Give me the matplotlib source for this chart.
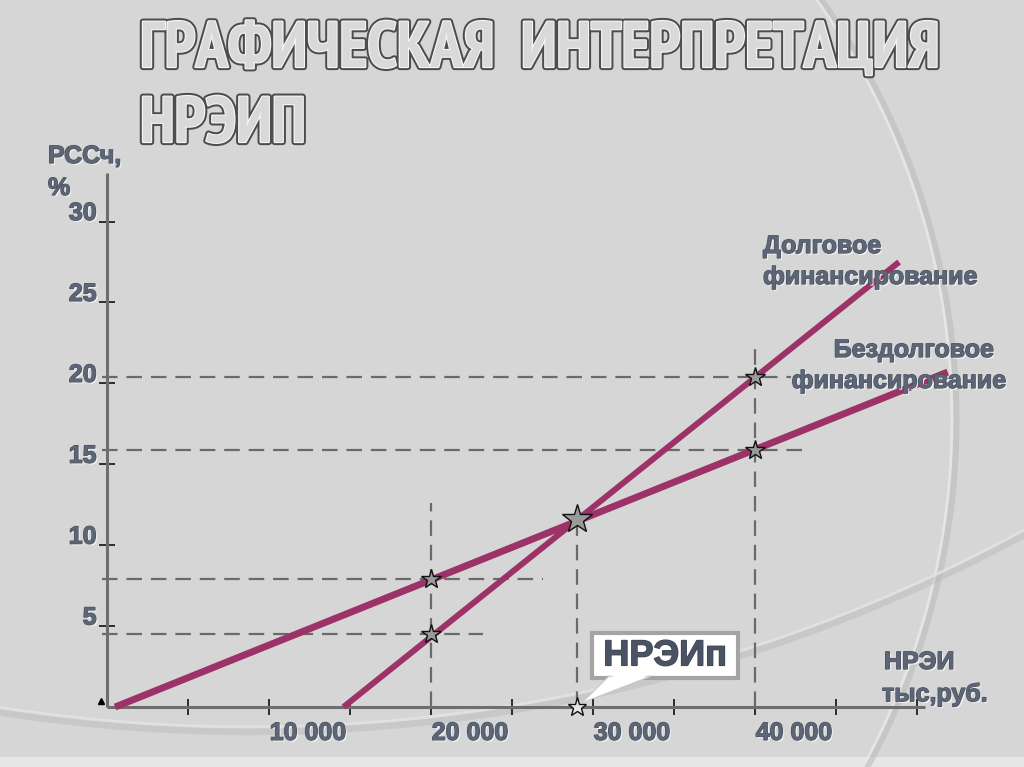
import numpy as np
import matplotlib
matplotlib.use("Agg")
import matplotlib.pyplot as plt
import matplotlib.patheffects as pe
from matplotlib.patches import Rectangle, Polygon
from matplotlib.transforms import ScaledTranslation
from matplotlib import font_manager as fm

# ---------------- data ----------------
x_ticks = [5000, 10000, 15000, 20000, 25000, 30000, 35000, 40000, 45000, 50000]
x_tick_labels = ['', '10 000', '', '20 000', '', '30 000', '', '40 000', '', '']
y_ticks = [5, 10, 15, 20, 25, 30]
y_tick_labels = ['5', '10', '15', '20', '25', '30']

debt_x = [14600, 48900]          # Долговое финансирование
debt_y = [0.0, 27.5]
nodebt_x = [500, 51900]          # Бездолговое финансирование
nodebt_y = [0.0, 20.7]

break_even_x = [29000]           # НРЭИп
break_even_y = [11.6]
point_x = [20000, 20000, 40000, 40000]
point_y = [7.9, 4.5, 20.4, 15.9]

hline_y = [20.4, 15.9, 7.9, 4.5]
hline_xend = [42200, 43000, 26900, 23200]
vline_x = [20000, 29000, 40000]
vline_ytop = [12.6, 11.6, 22.2]

# ---------------- fonts ----------------
installed = set(f.name for f in fm.fontManager.ttflist)
font = ['Liberation Sans', 'DejaVu Sans']
title_family = None
for cand in ['Arial Narrow', 'Liberation Sans Narrow', 'PT Sans Narrow', 'Roboto Condensed',
             'Arimo', 'DejaVu Sans']:
    if cand in installed:
        title_family = cand
        break
title_stretch = 'condensed' if title_family == 'DejaVu Sans' else 'normal'

# ---------------- figure ----------------
W, H = 1024, 767
fig = plt.figure(figsize=(W / 100, H / 100), dpi=100)
fig.patch.set_facecolor('#d6d6d6')

# background decoration axes (pixel coordinates)
bg = fig.add_axes([0, 0, 1, 1], zorder=-1)
bg.set_xlim(0, W)
bg.set_ylim(H, 0)
bg.axis('off')
bg.add_patch(Rectangle((0, 757), W, 10, color='#e6e6e6', lw=0))
# right arc
t = np.linspace(np.radians(-37), np.radians(30), 300)
arc_x = 232 + 720 * np.cos(t)
arc_y = 420 + 720 * np.sin(t)
bg.plot(arc_x + 4, arc_y, color='#b9b9b9', lw=5, alpha=0.55, solid_capstyle='butt')
bg.plot(arc_x, arc_y, color='#e9e9e9', lw=2.0, alpha=0.85)
# bottom swoosh
xs = np.linspace(0, W, 300)
R = 1619
ys = (727 - R) + np.sqrt(R ** 2 - (xs - 250) ** 2)
bg.plot(xs, ys + 4, color='#bcbcbc', lw=6, alpha=0.5)
bg.plot(xs, ys, color='#e6e6e6', lw=2.0, alpha=0.8)

# main axes: origin at pixel (107, 707), 16.2 px per unit on both axes
left, right, bottom, top = 107, 925, 707, 173
ax = fig.add_axes([left / W, (H - bottom) / H, (right - left) / W, (bottom - top) / H], zorder=1)
ax.patch.set_alpha(0)
ax.set_xlim(0, 50500)
ax.set_ylim(0, 33)
for s in ['top', 'right']:
    ax.spines[s].set_visible(False)
for s in ['left', 'bottom']:
    ax.spines[s].set_color('#6e6e6e')
    ax.spines[s].set_linewidth(2.2)
    ax.spines[s].set_capstyle('butt')

label_color = '#5d6676'
label_pe = [pe.withSimplePatchShadow(offset=(1.2, -1.2), shadow_rgbFace='#f4f4f4', alpha=0.9),
            pe.withStroke(linewidth=0.9, foreground='#495160')]

ax.set_xticks(x_ticks)
ax.set_xticklabels(x_tick_labels)
ax.set_yticks(y_ticks)
ax.set_yticklabels(y_tick_labels)
ax.tick_params(axis='both', direction='inout', length=12, width=1.2, color='#111111',
               labelsize=18, labelcolor=label_color)
ax.tick_params(axis='x', pad=4)
ax.tick_params(axis='y', pad=1.5)

# dashed guide lines
dash_kw = dict(color='#6a6a6a', lw=1.6, dashes=(7, 4), clip_on=False, zorder=2)
for yv, xe in zip(hline_y, hline_xend):
    ax.plot([-300, xe], [yv, yv], **dash_kw)
for xv, yt in zip(vline_x, vline_ytop):
    ax.plot([xv, xv], [0, yt], **dash_kw)

# financing lines
line_color = '#9c3268'
ax.plot(nodebt_x, nodebt_y, color=line_color, lw=5.0, solid_capstyle='butt', clip_on=False, zorder=3)
ax.plot(debt_x, debt_y, color=line_color, lw=4.3, solid_capstyle='butt', clip_on=False, zorder=3)

# stars
ax.plot(point_x, point_y, linestyle='none', marker='*', ms=15, mfc='#9a9a9a', mec='#111111',
        mew=1.0, clip_on=False, zorder=4)
ax.plot(break_even_x, break_even_y, linestyle='none', marker='*', ms=22, mfc='#9a9a9a',
        mec='#111111', mew=1.0, clip_on=False, zorder=4)
ax.plot(break_even_x, [0], linestyle='none', marker='*', ms=14, mfc='#e4e4e4', mec='#111111',
        mew=1.0, clip_on=False, zorder=5)
ax.plot([-350], [0.35], marker='^', ms=5, color='black', clip_on=False, zorder=4)

# callout НРЭИп (box + tail pointing to the break-even point on the axis)
bx0, bx1, by0, by1 = 29950, 38950, 1.79, 4.57
ax.add_patch(Rectangle((bx0, by0), bx1 - bx0, by1 - by0, fc='white', ec='#a4a4a4', lw=3,
                       clip_on=False, zorder=6))
tail = Polygon([(31000, by0 + 0.12), (33600, by0 + 0.12), (break_even_x[0] + 300, 0.25)],
               closed=True, fc='white', ec='#c9c9c9', lw=0.8, clip_on=False, zorder=6)
ax.add_patch(tail)
ax.add_patch(Polygon([(31050, by0 + 0.2), (33500, by0 + 0.2), (32000, by0 - 0.3)],
                     closed=True, fc='white', ec='none', clip_on=False, zorder=6))
ax.text((bx0 + bx1) / 2, (by0 + by1) / 2 - 0.02, 'НРЭИп', ha='center', va='center', fontsize=26,
        fontweight='bold', family=font, color='#4a5363', zorder=7,
        path_effects=[pe.withStroke(linewidth=1.0, foreground='#3a4250')])

# text labels (pixel coordinates)
txt_ax = fig.add_axes([0, 0, 1, 1], zorder=3)
txt_ax.set_xlim(0, W)
txt_ax.set_ylim(H, 0)
txt_ax.axis('off')

def tlabel(x, y, s, ha='left', size=18):
    txt_ax.text(x, y, s, ha=ha, va='center', fontsize=size, fontweight='bold', family=font,
                color=label_color, path_effects=label_pe)

tlabel(763, 246, 'Долговое')
tlabel(763, 277, 'финансирование')
tlabel(914, 350, 'Бездолговое', ha='center')
tlabel(899, 381, 'финансирование', ha='center')
tlabel(884, 662, 'НРЭИ')
tlabel(882, 694, 'тыс,руб.')
tlabel(48, 156, 'РССч,')
tlabel(48, 188, '%')

# title (fit first line to the slide width)
title_pe = [pe.Stroke(linewidth=4.5, foreground='#4d4d4d'),
            pe.Stroke(linewidth=1.6, foreground='#f6f6f6'),
            pe.Normal()]
t1 = txt_ax.text(140, 67, 'ГРАФИЧЕСКАЯ  ИНТЕРПРЕТАЦИЯ', ha='left', va='baseline', fontsize=44,
                 fontweight='bold', family=title_family, fontstretch=title_stretch,
                 color='#d9d9d9', path_effects=title_pe)
t2 = txt_ax.text(140, 142, 'НРЭИП', ha='left', va='baseline', fontsize=44,
                 fontweight='bold', family=title_family, fontstretch=title_stretch,
                 color='#d9d9d9', path_effects=title_pe)
renderer = fig.canvas.get_renderer()
wpx = t1.get_window_extent(renderer).width
size = 44 * 800 / wpx
size = min(size, 50)
t1.set_fontsize(size)
t2.set_fontsize(size)

# tick label styling and offsets (labels sit beside the tick marks, as in the slide)
xoff = ScaledTranslation(0.39, 0, fig.dpi_scale_trans)
yoff = ScaledTranslation(0, 0.11, fig.dpi_scale_trans)
for lab in ax.get_xticklabels():
    lab.set_fontweight('bold')
    lab.set_family(font)
    lab.set_path_effects(label_pe)
    lab.set_transform(lab.get_transform() + xoff)
for lab in ax.get_yticklabels():
    lab.set_fontweight('bold')
    lab.set_family(font)
    lab.set_path_effects(label_pe)
    lab.set_transform(lab.get_transform() + yoff)

fig.savefig('out.png', dpi=100, facecolor=fig.get_facecolor())
